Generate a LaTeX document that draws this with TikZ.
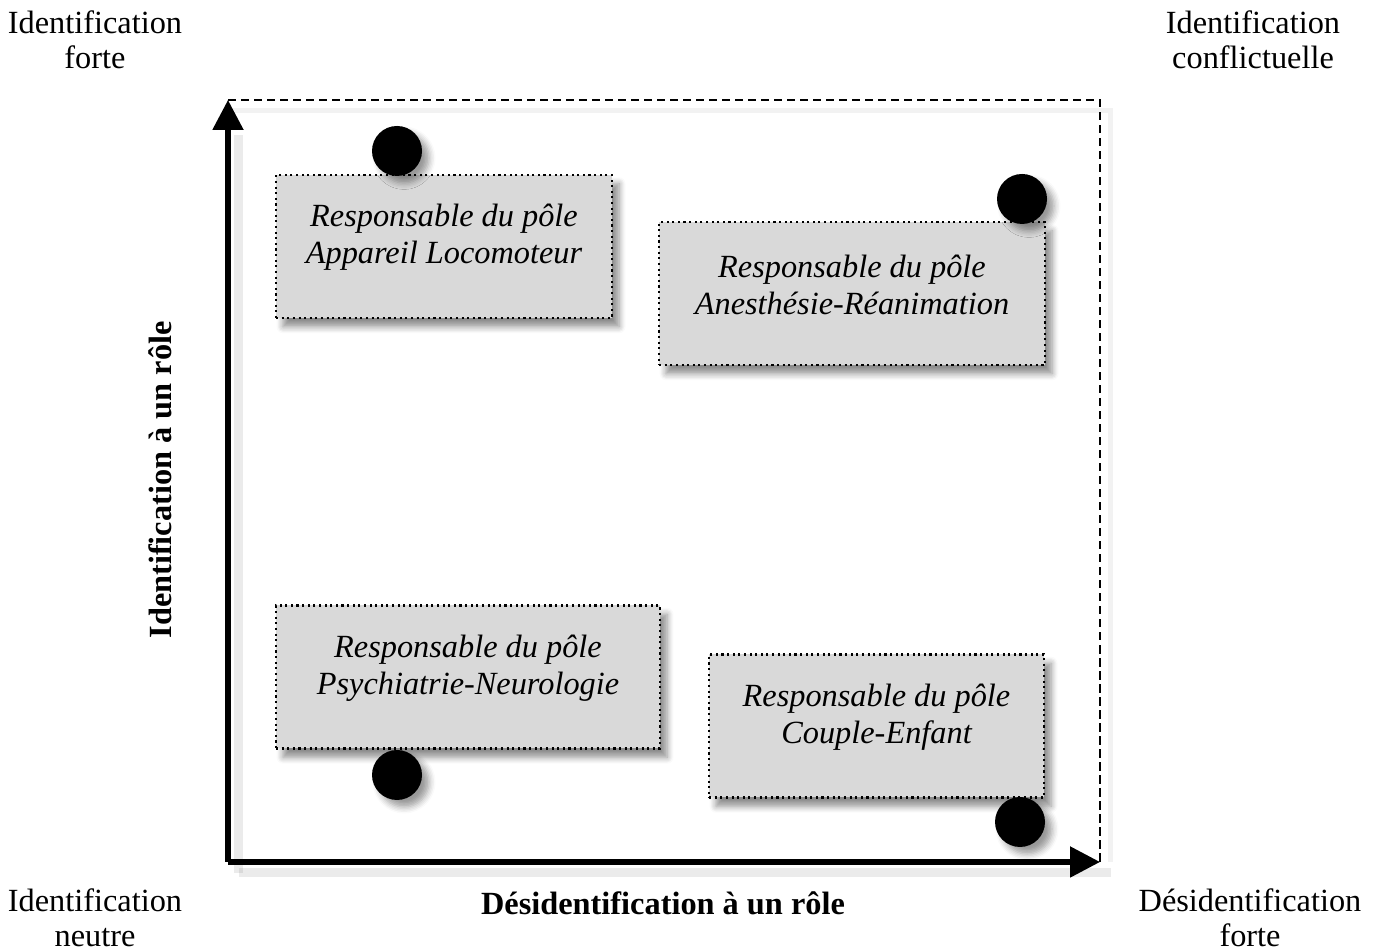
\documentclass[tikz,border=0pt]{standalone}
\usepackage{fontspec}
\setmainfont{Liberation Serif}
\usetikzlibrary{arrows.meta,shadows.blur}

\tikzset{
  pole/.style={draw, densely dotted, line width=0.6pt, fill=black!15,
    minimum height=1.43cm, inner sep=0pt,
    blur shadow={shadow xshift=2pt, shadow yshift=-2.5pt, shadow blur steps=6, shadow opacity=45}},
  poletext/.style={font=\fontsize{9.2}{10.5}\selectfont\itshape, align=center},
  dot/.style={circle, fill=black, minimum size=0.5cm, inner sep=0pt,
    blur shadow={shadow xshift=2pt, shadow yshift=-2pt, shadow blur steps=5, shadow opacity=40}},
  corner/.style={font=\fontsize{9.2}{10}\selectfont, align=center},
  axislabel/.style={font=\fontsize{9.2}{10}\selectfont\bfseries},
  axis/.style={line width=1.5pt, -{Triangle[length=0.3cm,width=0.3cm]}},
  axisshadow/.style={line width=2.5pt, draw=black, opacity=0.08},
  frame/.style={line width=0.6pt, dash pattern=on 2.3pt off 1.4pt}
}

\begin{document}
\begin{tikzpicture}
\useasboundingbox (0,0) rectangle (13.81,9.51);

\coordinate (O) at (2.28,0.89);
\coordinate (Y) at (2.28,8.51);
\coordinate (X) at (11.00,0.89);
\coordinate (C) at (11.00,8.51);

% ombres des axes
\draw[axisshadow] ([xshift=3pt,yshift=-3pt]O) -- ([xshift=3pt,yshift=-3pt]X);
\draw[axisshadow] ([xshift=3pt,yshift=-3pt]O) -- ([xshift=3pt,yshift=-10pt]Y);
\draw[axisshadow, line width=1.5pt, opacity=0.05] ([yshift=-3pt]Y) -- ([xshift=3pt,yshift=-3pt]C) -- ([xshift=3pt]X);

% cadre et axes
\draw[frame] (Y) -- (C) -- (X);
\draw[axis] (O) -- (Y);
\draw[axis] (O) -- (X);

% poles
\node[pole, minimum width=3.36cm] (app) at (4.44,7.045) {};
\node[poletext] at ([yshift=0.09cm]app.center) {Responsable du pôle\\Appareil Locomoteur};
\node[pole, minimum width=3.86cm] (anes) at (8.52,6.575) {};
\node[poletext] at ([yshift=0.09cm]anes.center) {Responsable du pôle\\Anesthésie-Réanimation};
\node[pole, minimum width=3.84cm] (psy) at (4.68,2.74) {};
\node[poletext] at ([yshift=0.09cm]psy.center) {Responsable du pôle\\Psychiatrie-Neurologie};
\node[pole, minimum width=3.35cm] (enf) at (8.765,2.25) {};
\node[poletext] at ([yshift=0.09cm]enf.center) {Responsable du pôle\\Couple-Enfant};

% positions
\node[dot] (d1) at (3.97,8.00) {};
\node[dot] (d2) at (10.22,7.52) {};
\node[dot] (d3) at (3.97,1.76) {};
\node[dot] (d4) at (10.20,1.29) {};

% libelles
\node[corner] (tl) at (0.95,9.11) {Identification\\forte};
\node[corner] (tr) at (12.53,9.11) {Identification\\conflictuelle};
\node[corner] (bl) at (0.95,0.33) {Identification\\neutre};
\node[corner] (br) at (12.50,0.33) {Désidentification\\forte};
\node[axislabel] (xl) at (6.63,0.48) {Désidentification à un rôle};
\node[axislabel, rotate=90] (yl) at (1.60,4.71) {Identification à un rôle};
\end{tikzpicture}
\end{document}
